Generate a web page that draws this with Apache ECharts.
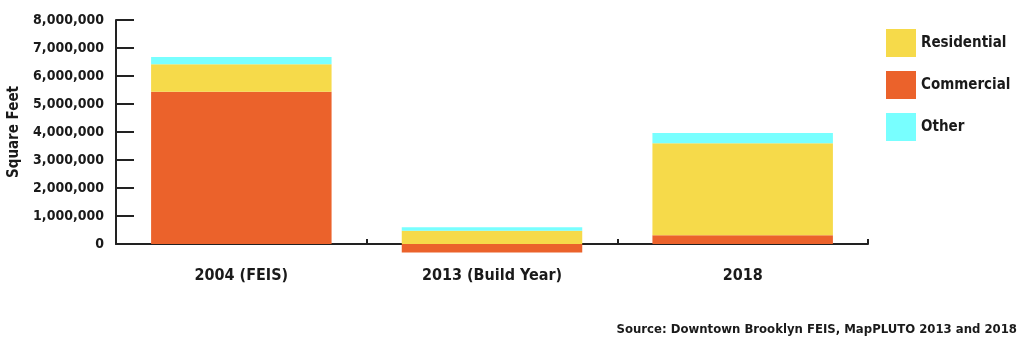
<!DOCTYPE html>
<html>
<head>
<meta charset="utf-8">
<script src="https://cdn.jsdelivr.net/npm/echarts@6/dist/echarts.min.js"></script>
<style>
html,body{margin:0;padding:0;background:#fff;}
#c{width:1024px;height:346px;}
</style>
</head>
<body>
<div id="c"></div>
<script>
const categories = ['2004 (FEIS)', '2013 (Build Year)', '2018'];
const commercial = [5440000, -300000, 310000];
const residential = [980000, 475000, 3290000];
const other = [260000, 120000, 360000];
const yTicks = [0, 1000000, 2000000, 3000000, 4000000, 5000000, 6000000, 7000000, 8000000];

const FONT = '"DejaVu Sans Condensed", "Liberation Sans Narrow", sans-serif';
const TXT = '#1a1a1a';
const chart = echarts.init(document.getElementById('c'));
chart.setOption({
  animation: false,
  textStyle: { fontFamily: FONT },
  grid: { left: 116, right: 156, top: 20, bottom: 102, containLabel: false, outerBoundsMode: 'none' },
  legend: {
    orient: 'vertical', left: 881, top: 24,
    itemWidth: 30, itemHeight: 28, itemGap: 14,
    icon: 'rect',
    data: ['Residential', 'Commercial', 'Other'],
    textStyle: { fontFamily: FONT, fontSize: 15, fontWeight: 'bold', color: TXT }
  },
  xAxis: {
    type: 'category', data: categories,
    axisLine: { lineStyle: { color: '#222', width: 2 }, onZero: false },
    axisTick: { show: true, inside: true, length: 5, lineStyle: { color: '#222', width: 2 } },
    axisLabel: { fontFamily: FONT, fontSize: 16, fontWeight: 'bold', color: TXT, margin: 24 }
  },
  yAxis: {
    type: 'value', min: 0, max: 8000000, interval: 1000000,
    name: 'Square Feet', nameLocation: 'middle', nameGap: 94, nameRotate: 90,
    nameTextStyle: { fontFamily: FONT, fontSize: 15, fontWeight: 'bold', color: TXT },
    axisLine: { show: true, lineStyle: { color: '#222', width: 2 } },
    axisTick: { show: true, inside: true, length: 18, lineStyle: { color: '#222', width: 2 } },
    splitLine: { show: false },
    axisLabel: {
      fontFamily: FONT, fontSize: 14, fontWeight: 'bold', color: TXT, margin: 12,
      formatter: v => yTicks.indexOf(v) >= 0 ? v.toLocaleString('en-US') : ''
    }
  },
  series: [
    { name: 'Commercial', type: 'bar', stack: 's', data: commercial, barWidth: '72%', clip: false, itemStyle: { color: '#EB622B' } },
    { name: 'Residential', type: 'bar', stack: 's', data: residential, clip: false, itemStyle: { color: '#F6DA4A' } },
    { name: 'Other', type: 'bar', stack: 's', data: other, clip: false, itemStyle: { color: '#78FFFF' } }
  ],
  graphic: [{
    type: 'text', right: 7, top: 323,
    style: { text: 'Source: Downtown Brooklyn FEIS, MapPLUTO 2013 and 2018', font: 'bold 13px ' + FONT, fill: TXT }
  }]
});
</script>
</body>
</html>
